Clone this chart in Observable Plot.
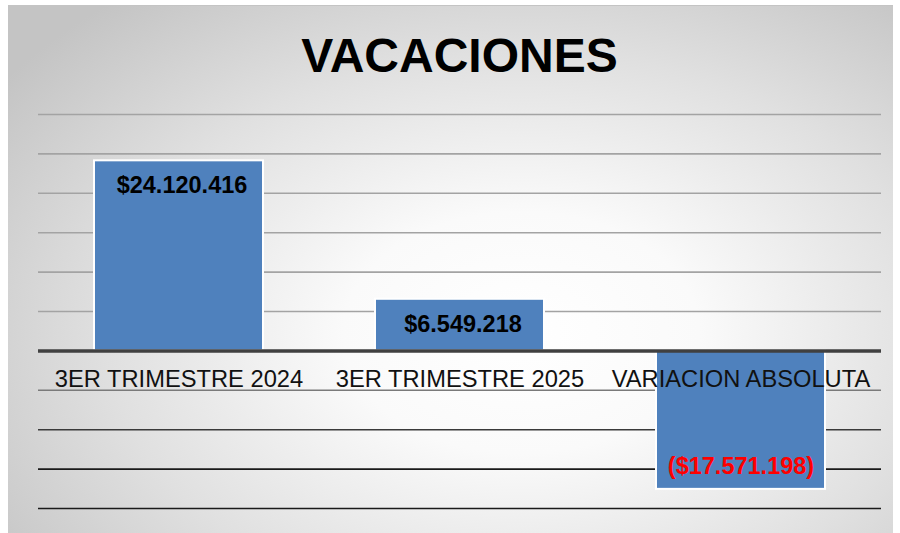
<!DOCTYPE html>
<html>
<head>
<meta charset="utf-8">
<script src="https://cdn.jsdelivr.net/npm/d3@7"></script>
<script src="https://cdn.jsdelivr.net/npm/@observablehq/plot@0.6"></script>
<style>
  html, body { margin: 0; padding: 0; background: #fff; }
  #wrap { position: relative; width: 900px; height: 533px; overflow: hidden; font-family: "Liberation Sans", Arial, sans-serif; }
  #bg { position: absolute; left: 8px; top: 5px; width: 885px; height: 527px;
        background: radial-gradient(ellipse 72% 82% at 58% 62%, #ffffff 0%, #fafafa 28%, #e0e0e0 65%, #c4c4c4 100%);
        border-top: 1px solid #c4c4c4; }
  #title { position: absolute; left: 0; width: 919px; top: 32px; text-align: center;
           font: bold 48px/48px "Liberation Sans", Arial, sans-serif; color: #000; margin: 0; }
  #chart { position: absolute; left: 0; top: 0; }
</style>
</head>
<body>
<div id="wrap">
  <div id="bg"></div>
  <div id="chart"></div>
  <h1 id="title">VACACIONES</h1>
</div>
<script>
const categories = ["3ER TRIMESTRE 2024", "3ER TRIMESTRE 2025", "VARIACION ABSOLUTA"];
const values = [24120416, 6549218, -17571198];
const valueLabels = ["$24.120.416", "$6.549.218", "($17.571.198)"];
const gridTicks = [-20e6, -15e6, -10e6, -5e6, 5e6, 10e6, 15e6, 20e6, 25e6, 30e6];

const data = categories.map((c, i) => ({cat: c, value: values[i], label: valueLabels[i]}));
const pos = data.filter(d => d.value >= 0);
const neg = data.filter(d => d.value < 0);
const gridColor = v => v > 0 ? "#a3a3a3" : v === -5e6 ? "#7a7a7a" : v === -10e6 ? "#3a3a3a" : "#1a1a1a";

const chart = Plot.plot({
  width: 900,
  height: 533,
  marginTop: 114,
  marginBottom: 25,
  marginLeft: 38,
  marginRight: 19,
  style: {background: "transparent", fontFamily: "'Liberation Sans', Arial, sans-serif"},
  x: {domain: categories, paddingInner: 0.4, paddingOuter: 0.2, axis: null},
  y: {domain: [-20e6, 30e6], axis: null},
  marks: [
    Plot.ruleY(gridTicks, {stroke: d => gridColor(d), strokeWidth: 1.6}),
    Plot.barY(data, {x: "cat", y: "value", fill: "#4f81bd", stroke: "#ffffff", strokeWidth: 2}),
    Plot.ruleY([0], {stroke: "#404040", strokeWidth: 3.5}),
    Plot.text(data, {x: "cat", y: () => 0, text: "cat", dy: 29, lineAnchor: "middle",
      fontSize: 23.7, fill: "#111"}),
    Plot.text(pos, {x: "cat", y: "value", text: "label", dy: 25, dx: 3,
      lineAnchor: "middle", fontSize: 23.5, fontWeight: "bold", fill: "#000"}),
    Plot.text(neg, {x: "cat", y: "value", text: "label", dy: -23,
      lineAnchor: "middle", fontSize: 23.5, fontWeight: "bold", fill: "#ff0000"})
  ]
});
document.getElementById("chart").appendChild(chart);
</script>
</body>
</html>
